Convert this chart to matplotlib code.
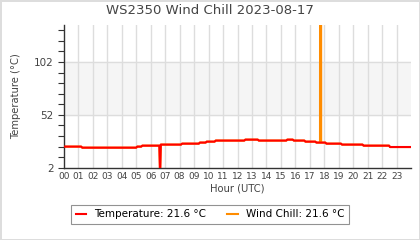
#!/usr/bin/env python3
"""WS2350 wind chill chart for one day."""

import matplotlib

matplotlib.use("Agg")
import matplotlib.pyplot as plt
from matplotlib.ticker import MultipleLocator, FixedLocator

TITLE = "WS2350 Wind Chill 2023-08-17"

# readings: hour of day (UTC) and value in degC
temp_hours = [0.0, 1.2, 1.27, 5.0, 5.07, 5.35, 5.42, 6.6, 6.65, 6.7, 8.1, 8.17,
              9.33, 9.4, 9.8, 9.87, 10.42, 10.49, 12.47, 12.54, 13.4, 13.47,
              15.37, 15.44, 15.82, 15.89, 16.62, 16.69, 17.38, 17.45, 18.07, 18.14,
              19.15, 19.22, 20.64, 20.71, 22.47, 22.54, 23.95]
temp_vals = [22.0, 22.0, 21.0, 21.0, 22.0, 22.0, 22.9, 22.9, -5.0, 23.9, 23.9, 24.8,
             24.8, 25.8, 25.8, 26.7, 26.7, 27.7, 27.7, 28.6, 28.6, 27.7,
             27.7, 28.6, 28.6, 27.7, 27.7, 26.7, 26.7, 25.8, 25.8, 24.8,
             24.8, 23.9, 23.9, 22.9, 22.9, 21.6, 21.6]

chill_hours = [0.0, 1.2, 1.27, 5.0, 5.07, 5.35, 5.42, 6.6, 6.65, 6.7, 8.1, 8.17,
               9.33, 9.4, 9.8, 9.87, 10.42, 10.49, 12.47, 12.54, 13.4, 13.47,
               15.37, 15.44, 15.82, 15.89, 16.62, 16.69, 17.38, 17.45, 17.7, 17.74, 17.78,
               18.07, 18.14, 19.15, 19.22, 20.64, 20.71, 22.47, 22.54, 23.95]
chill_vals = [22.0, 22.0, 21.0, 21.0, 22.0, 22.0, 22.9, 22.9, -5.0, 23.9, 23.9, 24.8,
              24.8, 25.8, 25.8, 26.7, 26.7, 27.7, 27.7, 28.6, 28.6, 27.7,
              27.7, 28.6, 28.6, 27.7, 27.7, 26.7, 26.7, 25.8, 25.8, 2000.0, 25.8,
              25.8, 24.8, 24.8, 23.9, 23.9, 22.9, 22.9, 21.6, 21.6]

hour_labels = [f"{h:02d}" for h in range(24)]
y_major = [2, 52, 102]
band = (52, 102)
last_temp = 21.6
last_chill = 21.6

TEXT = "#444444"
GRID = "#dddddd"


def main() -> None:
    fig = plt.figure(figsize=(4.2, 2.4), dpi=100)
    fig.patch.set_edgecolor("#dddddd")
    fig.patch.set_linewidth(0.8)
    ax = fig.add_axes([0.152, 0.301, 0.827, 0.595])

    ax.axhspan(*band, color="#f5f5f5", zorder=0)
    for y in band:
        ax.axhline(y, color=GRID, lw=1, zorder=0.5)
    for h in range(1, 24):
        ax.axvline(h, color=GRID, lw=1, zorder=0.5)

    ax.plot(chill_hours, chill_vals, color="#ff8c00", lw=1.5, zorder=2,
            label=f"Wind Chill: {last_chill:.1f} °C")
    ax.plot(temp_hours, temp_vals, color="#ff0000", lw=1.5, zorder=3,
            label=f"Temperature: {last_temp:.1f} °C")

    ax.set_xlim(0, 24)
    ax.set_ylim(2, 137)
    ax.set_xticks(range(24), hour_labels)
    ax.yaxis.set_major_locator(FixedLocator(y_major))
    ax.yaxis.set_minor_locator(MultipleLocator(10, offset=2))
    ax.tick_params(axis="x", length=0, pad=3, labelsize=6.5, colors=TEXT)
    ax.tick_params(axis="y", which="both", length=4, width=0.8, labelsize=7.5, colors=TEXT)
    ax.tick_params(axis="y", which="both", color="#333333")

    for side in ("top", "right"):
        ax.spines[side].set_visible(False)
    for side in ("left", "bottom"):
        ax.spines[side].set_color("#333333")
        ax.spines[side].set_linewidth(1)

    ax.set_xlabel("Hour (UTC)", fontsize=7.2, color=TEXT, labelpad=2)
    ax.set_ylabel("Temperature (°C)", fontsize=7.2, color=TEXT, labelpad=9)
    fig.suptitle(TITLE, x=0.5, y=0.985, fontsize=9.5, color=TEXT)

    handles, labels = ax.get_legend_handles_labels()
    leg = fig.legend(handles[::-1], labels[::-1], loc="center", bbox_to_anchor=(0.5, 0.107),
                     ncol=2, fontsize=7.5, frameon=True, fancybox=False,
                     handlelength=1.0, columnspacing=2.0, borderpad=0.45)
    leg.get_frame().set_edgecolor("#777777")
    leg.get_frame().set_linewidth(0.8)

    fig.savefig("out.png", dpi=100)
    plt.close(fig)


if __name__ == "__main__":
    main()
